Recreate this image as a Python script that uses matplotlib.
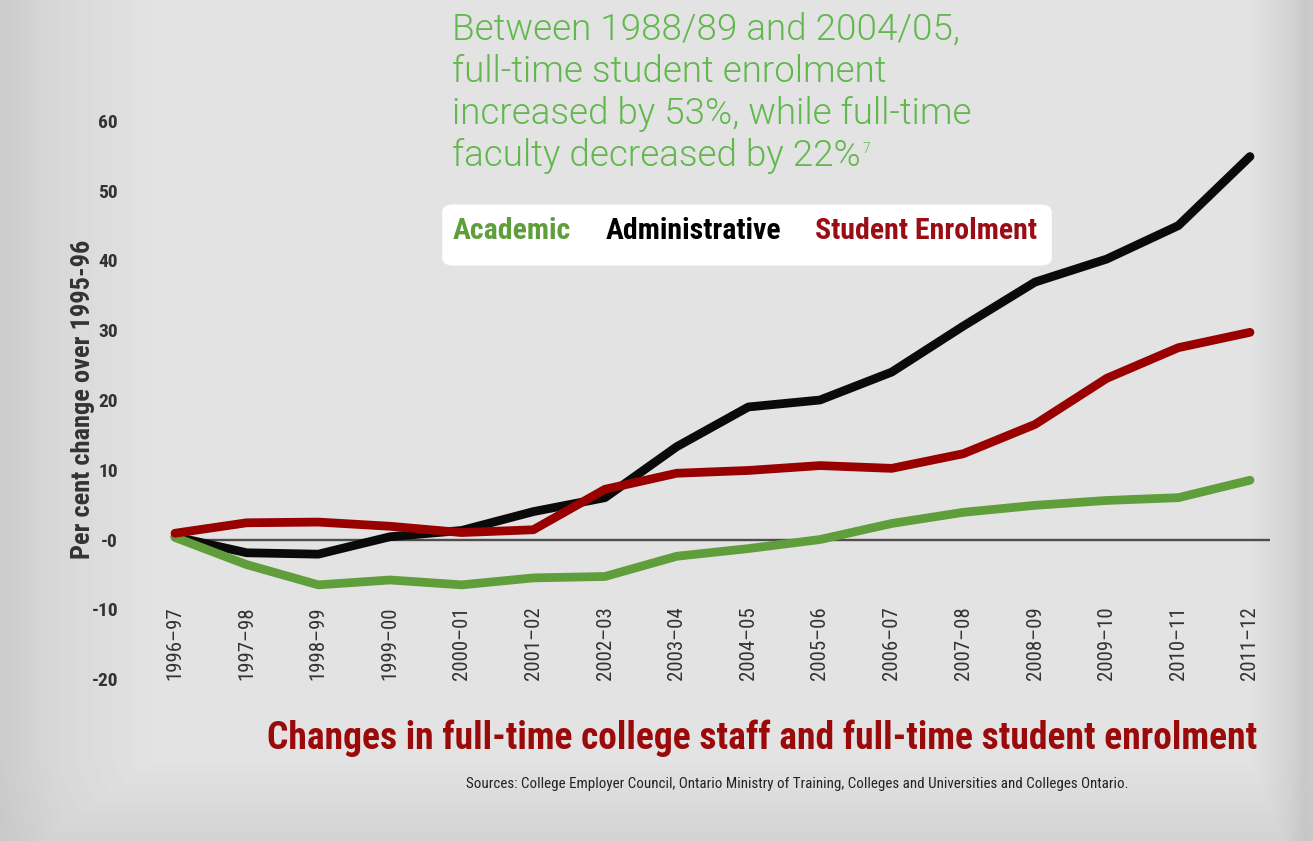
import numpy as np
import matplotlib
matplotlib.use('Agg')
import matplotlib.pyplot as plt
from matplotlib.patches import FancyBboxPatch

# data (per cent change over 1995-96)
years = ['1996–97', '1997–98', '1998–99', '1999–00', '2000–01', '2001–02',
         '2002–03', '2003–04', '2004–05', '2005–06', '2006–07', '2007–08',
         '2008–09', '2009–10', '2010–11', '2011–12']
academic = [0.3, -3.6, -6.5, -5.8, -6.5, -5.5, -5.3, -2.4, -1.3, 0.0,
            2.3, 3.9, 4.9, 5.6, 6.0, 8.5]
administrative = [0.4, -1.9, -2.1, 0.4, 1.3, 4.0, 6.0, 13.3, 19.0, 20.0,
                  24.0, 30.6, 36.9, 40.2, 45.0, 54.9]
enrolment = [0.9, 2.4, 2.5, 1.9, 1.0, 1.4, 7.2, 9.5, 9.9, 10.6,
             10.2, 12.3, 16.5, 23.1, 27.5, 29.7]
yticks = [-20, -10, 0, 10, 20, 30, 40, 50, 60]
ytick_labels = ['-20', '-10', '-0', '10', '20', '30', '40', '50', '60']

GREEN = '#5f9e3a'
RED = '#990000'
BLACK = '#0a0a0a'
NOTE = '#62b84f'
NARROW = ['Roboto Condensed', 'DejaVu Sans']

W, H = 1313, 841
fig = plt.figure(figsize=(W / 100, H / 100), dpi=100)

def px(x, y):
    return x / W, 1 - y / H

def ntext(*args, **kw):
    kw.setdefault('family', NARROW)
    kw.setdefault('fontstretch', 'condensed')
    return fig.text(*args, **kw)

# background with darker edges
xs = np.arange(W)
ys = np.arange(H)
gx = np.interp(xs, [0, 60, 160, 1250, 1290, 1305, 1313], [0.80, 0.85, 0.89, 0.89, 0.83, 0.79, 0.80])
gy = np.interp(ys, [0, 760, 841], [0.89, 0.89, 0.84])
bg_arr = np.minimum(gx[None, :], gy[:, None]) - (0.89 - gy[:, None]) * 0.3
bg = fig.add_axes([0, 0, 1, 1], zorder=-10)
bg.imshow(bg_arr, cmap='gray', vmin=0, vmax=1, aspect='auto', extent=[0, 1, 0, 1])
bg.axis('off')

# main axes: x index 0 -> 175px, 15 -> 1250px ; y 60 -> 121px, -20 -> 679px
ax = fig.add_axes([153.5 / W, (H - 693) / H, 1118 / W, 586 / H])
ax.set_facecolor('none')
ax.set_xlim(-0.3, 15.3)
ax.set_ylim(-22, 62)
for s in ax.spines.values():
    s.set_visible(False)

x = np.arange(len(years))
ax.hlines(0, x[0], x[-1] + 0.28, color='#4d4d4d', lw=1.7, zorder=1)
ax.plot(x, academic, color=GREEN, lw=6.3, solid_capstyle='round', solid_joinstyle='round', zorder=3)
ax.plot(x, administrative, color=BLACK, lw=6.3, solid_capstyle='round', solid_joinstyle='round', zorder=2)
ax.plot(x, enrolment, color=RED, lw=6.3, solid_capstyle='round', solid_joinstyle='round', zorder=4)

ax.set_xticks([])
ax.set_yticks(yticks)
ax.set_yticklabels(ytick_labels, family=NARROW, fontstretch='condensed',
                   fontweight='bold', fontsize=14, color='#333333')
ax.tick_params(axis='y', length=0, pad=25.5)
ax.set_ylabel('Per cent change over 1995-96', family=NARROW, fontstretch='condensed',
              fontweight='bold', fontsize=19, color='#333333')
ax.yaxis.set_label_coords(-0.052, 0.502)

for i, lab in enumerate(years):
    ax.text(x[i], -9.6, lab, rotation=90, ha='center', va='top', family=NARROW,
            fontstretch='condensed', fontsize=15, color='#333333')

# note text
note = ['Between 1988/89 and 2004/05,', 'full-time student enrolment',
        'increased by 53%, while full-time', 'faculty decreased by 22%']
for k, line in enumerate(note):
    t = fig.text(*px(452, 30 + 42 * k), line, ha='left', va='center',
                 family=['Roboto', 'DejaVu Sans'], fontweight=300, fontsize=26.5, color=NOTE)
fig.canvas.draw()
bb = t.get_window_extent()
fig.text((bb.x1 + 2) / W, (bb.y1 - 4) / H, '7', ha='left', va='top',
         family=['Roboto', 'DejaVu Sans'], fontweight=300, fontsize=10, color=NOTE)

# legend box
box = FancyBboxPatch(px(454, 258), (1040 - 454) / W, (258 - 212) / H,
                     boxstyle='round,pad=0.009', transform=fig.transFigure,
                     facecolor='white', edgecolor='none', zorder=5)
fig.patches.append(box)
for xx, lab, col in [(453, 'Academic', GREEN), (606, 'Administrative', 'black'),
                     (815, 'Student Enrolment', '#9b0d14')]:
    ntext(*px(xx, 231), lab, ha='left', va='center',
          fontweight='bold', fontsize=21.5, color=col, zorder=6)

# title and sources
ntext(*px(762, 738), 'Changes in full-time college staff and full-time student enrolment',
      ha='center', va='center', fontweight='bold', fontsize=27, color='#9b0a0a')
ntext(*px(797, 784), 'Sources: College Employer Council, Ontario Ministry of Training, '
      'Colleges and Universities and Colleges Ontario.',
      ha='center', va='center', fontsize=10.8, color='#222222')

fig.savefig('out.png', dpi=100)
